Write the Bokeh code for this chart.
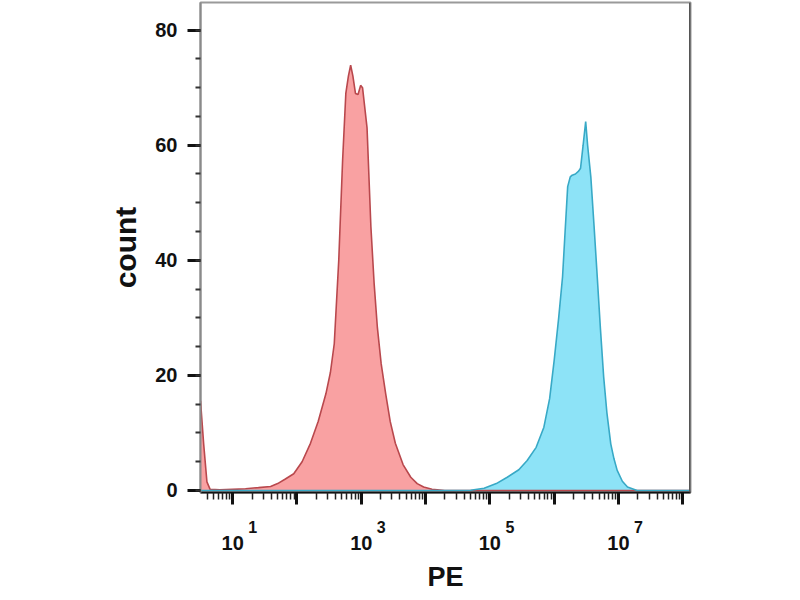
from bokeh.plotting import figure
from bokeh.models import Range1d, FixedTicker, SingleIntervalTicker, Span, LogAxis
from bokeh.embed import file_html
from bokeh.resources import INLINE

# ---- data (log10 of PE intensity, event count) ----
red_log_pe = [0.50, 0.55, 0.60, 0.65, 0.80, 1.00, 1.20, 1.40, 1.59, 1.70, 1.82, 1.95,
              2.08, 2.21, 2.33, 2.45, 2.52, 2.58, 2.65, 2.71, 2.76, 2.80, 2.835, 2.87,
              2.91, 2.95, 2.99, 3.02, 3.05, 3.09, 3.15, 3.20, 3.25, 3.31, 3.38, 3.45,
              3.53, 3.65, 3.77, 3.87, 3.97, 4.10, 4.30, 6.00, 8.12]
red_count = [15.6, 8.0, 1.5, 0.2, 0.1, 0.2, 0.3, 0.5, 0.7, 1.2, 2.0, 2.9,
             5.0, 8.2, 12.0, 16.8, 20.5, 25.5, 40.0, 57.4, 69.0, 72.0, 73.9, 72.0,
             69.0, 68.8, 70.4, 70.0, 67.0, 63.0, 45.8, 36.0, 28.4, 22.0, 16.8, 12.0,
             8.2, 4.5, 2.3, 1.2, 0.6, 0.2, 0.0, 0.0, 0.0]

blue_log_pe = [0.50, 2.00, 4.50, 4.70, 4.91, 5.10, 5.27, 5.45, 5.58, 5.72, 5.84, 5.93,
               6.00, 6.07, 6.13, 6.17, 6.21, 6.25, 6.28, 6.33, 6.38, 6.41, 6.45, 6.49,
               6.52, 6.57, 6.62, 6.67, 6.72, 6.77, 6.82, 6.88, 6.93, 6.98, 7.06, 7.14,
               7.29, 8.12]
blue_count = [0.0, 0.0, 0.0, 0.05, 0.4, 1.2, 2.3, 3.6, 5.2, 7.5, 11.0, 16.0,
              22.6, 30.0, 37.1, 45.0, 52.8, 54.5, 54.8, 55.0, 55.5, 56.0, 60.0, 64.1,
              60.0, 54.5, 46.0, 37.1, 28.0, 19.7, 13.5, 8.1, 5.5, 3.5, 1.6, 0.6,
              0.0, 0.0]

x_major_exponents = [1, 2, 3, 4, 5, 6, 7, 8]
x_labelled_exponents = [1, 3, 5, 7]
y_major_interval = 20

X_MIN_EXP, X_MAX_EXP = 0.5, 8.12
Y_MIN, Y_MAX = -0.35, 84.8

red_x = [10 ** e for e in red_log_pe]
blue_x = [10 ** e for e in blue_log_pe]

FONT = "Liberation Sans"
NBSP = "\u00a0"

p = figure(width=800, height=600, x_axis_type="log",
           x_range=Range1d(10 ** X_MIN_EXP, 10 ** X_MAX_EXP),
           y_range=Range1d(Y_MIN, Y_MAX),
           output_backend="svg", toolbar_location=None,
           min_border_left=200, min_border_right=110,
           min_border_top=2, min_border_bottom=108)

p.background_fill_color = "white"
p.border_fill_color = "white"
p.outline_line_color = "#9a9a9a"
p.outline_line_width = 2
p.xgrid.visible = False
p.ygrid.visible = False

# histograms
p.varea(x=red_x, y1=0, y2=red_count, fill_color="#f9a1a2", fill_alpha=1)
p.varea(x=blue_x, y1=0, y2=blue_count, fill_color="#8de3f7", fill_alpha=1)
p.line(x=red_x, y=red_count, line_color="#b9484d", line_width=1.6)
p.line(x=blue_x, y=blue_count, line_color="#38a9c6", line_width=1.6)

# right border darker
p.add_layout(Span(location=10 ** X_MAX_EXP, dimension="height",
                  line_color="#555555", line_width=3))

# x axis: ticks + superscript exponents
minor = []
for d in range(0, 9):
    for m in range(2, 10):
        minor.append(m * 10 ** d)
major_ticks = [10 ** e for e in x_major_exponents]
xa = p.xaxis[0]
xa.ticker = FixedTicker(ticks=major_ticks, minor_ticks=minor)
xa.major_label_overrides = {10 ** e: ((NBSP * 9 + str(e)) if e in x_labelled_exponents else "")
                            for e in x_major_exponents}
xa.major_label_text_font = FONT
xa.major_label_text_font_style = "bold"
xa.major_label_text_font_size = "16px"
xa.major_label_text_color = "#111111"
xa.major_label_standoff = 14
xa.axis_line_color = "#111111"
xa.axis_line_width = 2
xa.major_tick_line_color = "#111111"
xa.major_tick_line_width = 3
xa.major_tick_out = 12
xa.major_tick_in = 0
xa.minor_tick_line_color = "#222222"
xa.minor_tick_line_width = 1.5
xa.minor_tick_out = 7
xa.minor_tick_in = 0

# second x axis below: the "10" bases and the axis title
xb = LogAxis(ticker=FixedTicker(ticks=major_ticks, minor_ticks=[]))
xb.major_label_overrides = {10 ** e: ("10" if e in x_labelled_exponents else "")
                            for e in x_major_exponents}
xb.major_label_text_font = FONT
xb.major_label_text_font_style = "bold"
xb.major_label_text_font_size = "20px"
xb.major_label_text_color = "#111111"
xb.major_label_standoff = -3
xb.axis_line_color = None
xb.major_tick_line_color = None
xb.minor_tick_line_color = None
xb.major_tick_out = 0
xb.minor_tick_out = 0
xb.axis_label = "PE"
xb.axis_label_text_font = FONT
xb.axis_label_text_font_style = "bold"
xb.axis_label_text_font_size = "27px"
xb.axis_label_text_color = "#111111"
xb.axis_label_standoff = 9
p.add_layout(xb, "below")

# y axis
ya = p.yaxis[0]
ya.ticker = SingleIntervalTicker(interval=y_major_interval, num_minor_ticks=4)
ya.axis_label = "count"
ya.axis_label_text_font = FONT
ya.axis_label_text_font_style = "bold"
ya.axis_label_text_font_size = "30px"
ya.axis_label_text_color = "#111111"
ya.axis_label_standoff = 10
ya.major_label_text_font = FONT
ya.major_label_text_font_style = "bold"
ya.major_label_text_font_size = "20px"
ya.major_label_text_color = "#111111"
ya.major_label_standoff = 10
ya.axis_line_color = "#8a8a8a"
ya.axis_line_width = 2
ya.major_tick_line_color = "#111111"
ya.major_tick_line_width = 3
ya.major_tick_out = 13
ya.major_tick_in = 0
ya.minor_tick_line_color = "#333333"
ya.minor_tick_line_width = 2
ya.minor_tick_out = 5
ya.minor_tick_in = 0

open("out.html", "w").write(file_html(p, INLINE))
